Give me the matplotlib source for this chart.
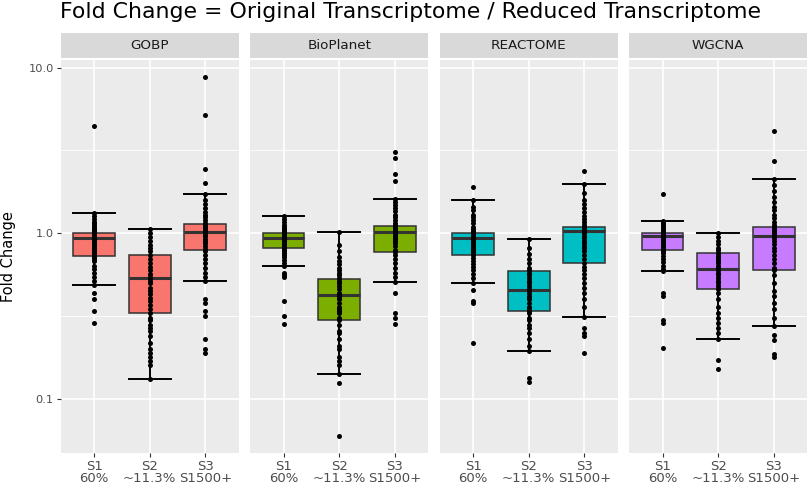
import matplotlib
matplotlib.use("Agg")
import matplotlib.pyplot as plt

plt.rcParams['font.family'] = ['DejaVu Sans']

panels = ["GOBP", "BioPlanet", "REACTOME", "WGCNA"]
colors = ["#F8766D", "#7CAE00", "#00BFC4", "#C77CFF"]
xlabels = ["S1\n60%", "S2\n~11.3%", "S3\nS1500+"]

# box statistics per panel: [S1, S2, S3]
q1 = {"GOBP": [0.73, 0.33, 0.80], "BioPlanet": [0.82, 0.30, 0.77],
      "REACTOME": [0.74, 0.34, 0.66], "WGCNA": [0.80, 0.465, 0.60]}
med = {"GOBP": [0.94, 0.54, 1.02], "BioPlanet": [0.94, 0.425, 1.02],
       "REACTOME": [0.94, 0.455, 1.04], "WGCNA": [0.96, 0.61, 0.96]}
q3 = {"GOBP": [1.00, 0.74, 1.14], "BioPlanet": [1.01, 0.53, 1.11],
      "REACTOME": [1.01, 0.59, 1.09], "WGCNA": [1.00, 0.76, 1.10]}
whislo = {"GOBP": [0.49, 0.132, 0.52], "BioPlanet": [0.64, 0.143, 0.51],
          "REACTOME": [0.50, 0.195, 0.315], "WGCNA": [0.59, 0.23, 0.277]}
whishi = {"GOBP": [1.33, 1.06, 1.74], "BioPlanet": [1.28, 1.02, 1.62],
          "REACTOME": [1.58, 0.92, 1.99], "WGCNA": [1.19, 1.01, 2.14]}

gobp_s1 = [4.43, 1.33, 1.28, 1.22, 1.18, 1.15, 1.12, 1.10, 1.07, 1.05, 1.03, 1.01, 1.0, 0.99,
           0.98, 0.97, 0.96, 0.95, 0.94, 0.93, 0.92, 0.91, 0.90, 0.88, 0.86, 0.84, 0.82, 0.80,
           0.78, 0.76, 0.74, 0.72, 0.70, 0.68, 0.635, 0.61, 0.58, 0.55, 0.52, 0.49, 0.44,
           0.40, 0.34, 0.29]
gobp_s2 = [1.06, 1.0, 0.95, 0.9, 0.85, 0.82, 0.78, 0.74, 0.70, 0.66, 0.63, 0.6, 0.57, 0.55,
           0.54, 0.52, 0.5, 0.47, 0.45, 0.43, 0.41, 0.39, 0.37, 0.35, 0.33, 0.31, 0.30, 0.28,
           0.27, 0.26, 0.24, 0.22, 0.20, 0.19, 0.18, 0.17, 0.16, 0.132]
gobp_s3 = [8.74, 5.16, 2.45, 2.02, 1.74, 1.6, 1.5, 1.42, 1.35, 1.3, 1.25, 1.2, 1.16, 1.13,
           1.1, 1.08, 1.05, 1.03, 1.02, 1.0, 0.98, 0.96, 0.93, 0.9, 0.87, 0.84, 0.81, 0.78,
           0.74, 0.7, 0.66, 0.62, 0.58, 0.55, 0.52, 0.40, 0.38, 0.34, 0.32, 0.232, 0.20, 0.19]
bio_s1 = [1.28, 1.22, 1.17, 1.13, 1.1, 1.07, 1.05, 1.03, 1.01, 1.0, 0.99, 0.98, 0.97, 0.96,
          0.95, 0.94, 0.93, 0.92, 0.91, 0.9, 0.88, 0.86, 0.84, 0.82, 0.8, 0.78, 0.76, 0.74,
          0.72, 0.69, 0.66, 0.64, 0.58, 0.56, 0.55, 0.39, 0.32, 0.286]
bio_s2 = [1.02, 0.85, 0.78, 0.72, 0.68, 0.65, 0.62, 0.6, 0.58, 0.56, 0.54, 0.52, 0.5, 0.48,
          0.46, 0.44, 0.43, 0.42, 0.41, 0.4, 0.38, 0.36, 0.35, 0.34, 0.33, 0.31, 0.3, 0.28,
          0.26, 0.25, 0.23, 0.21, 0.2, 0.18, 0.17, 0.16, 0.143, 0.125, 0.06]
bio_s3 = [3.1, 2.83, 2.27, 2.07, 1.62, 1.55, 1.48, 1.42, 1.36, 1.3, 1.25, 1.2, 1.16, 1.12,
          1.1, 1.08, 1.06, 1.04, 1.02, 1.0, 0.98, 0.96, 0.94, 0.92, 0.9, 0.87, 0.84, 0.8,
          0.77, 0.74, 0.7, 0.66, 0.62, 0.58, 0.55, 0.51, 0.44, 0.33, 0.31, 0.286]
rea_s1 = [1.9, 1.58, 1.45, 1.38, 1.3, 1.25, 1.2, 1.15, 1.1, 1.06, 1.03, 1.01, 1.0, 0.98, 0.97,
          0.96, 0.95, 0.94, 0.93, 0.92, 0.9, 0.88, 0.86, 0.84, 0.82, 0.8, 0.78, 0.76, 0.74,
          0.71, 0.68, 0.65, 0.63, 0.6, 0.57, 0.54, 0.5, 0.455, 0.39, 0.38, 0.22]
rea_s2 = [0.92, 0.82, 0.75, 0.7, 0.66, 0.62, 0.6, 0.58, 0.56, 0.54, 0.52, 0.5, 0.48, 0.46,
          0.455, 0.44, 0.42, 0.41, 0.4, 0.38, 0.36, 0.35, 0.34, 0.33, 0.31, 0.3, 0.28, 0.27,
          0.25, 0.23, 0.21, 0.195, 0.135, 0.127]
rea_s3 = [2.37, 1.99, 1.75, 1.6, 1.5, 1.42, 1.35, 1.28, 1.22, 1.17, 1.12, 1.09, 1.07, 1.05,
          1.04, 1.02, 1.0, 0.97, 0.94, 0.9, 0.87, 0.84, 0.82, 0.78, 0.74, 0.7, 0.66, 0.63, 0.6,
          0.57, 0.54, 0.5, 0.47, 0.44, 0.4, 0.36, 0.315, 0.27, 0.25, 0.24, 0.19]
wg_s1 = [1.72, 1.19, 1.15, 1.12, 1.09, 1.06, 1.04, 1.02, 1.0, 0.99, 0.98, 0.97, 0.96, 0.95,
         0.94, 0.93, 0.92, 0.91, 0.9, 0.88, 0.86, 0.84, 0.82, 0.8, 0.78, 0.76, 0.73, 0.7, 0.67,
         0.64, 0.61, 0.59, 0.44, 0.42, 0.30, 0.29, 0.205]
wg_s2 = [1.01, 0.95, 0.9, 0.86, 0.82, 0.79, 0.76, 0.74, 0.72, 0.7, 0.68, 0.66, 0.64, 0.62,
         0.61, 0.6, 0.58, 0.56, 0.54, 0.52, 0.5, 0.48, 0.465, 0.44, 0.4, 0.36, 0.33, 0.31,
         0.29, 0.27, 0.25, 0.23, 0.173, 0.152]
wg_s3 = [4.17, 2.73, 2.14, 1.95, 1.8, 1.65, 1.55, 1.45, 1.38, 1.3, 1.24, 1.18, 1.13, 1.1,
         1.07, 1.04, 1.0, 0.98, 0.96, 0.94, 0.9, 0.86, 0.82, 0.78, 0.74, 0.7, 0.66, 0.62, 0.6,
         0.56, 0.5, 0.45, 0.42, 0.38, 0.35, 0.31, 0.277, 0.244, 0.227, 0.187, 0.18]

points = {"GOBP": [gobp_s1, gobp_s2, gobp_s3],
          "BioPlanet": [bio_s1, bio_s2, bio_s3],
          "REACTOME": [rea_s1, rea_s2, rea_s3],
          "WGCNA": [wg_s1, wg_s2, wg_s3]}

yticks = [0.1, 1.0, 10.0]
yticklabels = ["0.1", "1.0", "10.0"]

W, H = 809, 491
fig = plt.figure(figsize=(W / 100, H / 100), dpi=100)

left0, pw, gap = 60.7, 178.0, 11.5
ptop, pbot = 60.0, 453.0
strip_top, strip_bot = 32.5, 58.3

for i, name in enumerate(panels):
    lx = left0 + i * (pw + gap)
    ax = fig.add_axes([lx / W, 1 - pbot / H, pw / W, (pbot - ptop) / H])
    ax.set_facecolor("#EBEBEB")
    ax.set_yscale("log")
    ax.set_ylim(0.0475, 11.1)
    ax.set_xlim(0.4, 3.6)
    for s in ax.spines.values():
        s.set_visible(False)
    # grid
    for yv in [10 ** -0.5, 10 ** 0.5]:
        ax.axhline(yv, color="white", lw=0.6, zorder=0)
    for yv in yticks:
        ax.axhline(yv, color="white", lw=1.2, zorder=0)
    for xv in [1, 2, 3]:
        ax.axvline(xv, color="white", lw=1.2, zorder=0)

    pos = [1, 2, 3]
    stats = []
    for k in range(3):
        stats.append({"med": med[name][k], "q1": q1[name][k], "q3": q3[name][k],
                      "whislo": whislo[name][k], "whishi": whishi[name][k], "fliers": []})
    # errorbar-style whiskers (drawn beneath the boxes)
    ax.bxp(stats, positions=pos, widths=0.75, showcaps=True, showbox=False,
           showfliers=False, capwidths=0.75,
           whiskerprops=dict(color="black", lw=1.4),
           capprops=dict(color="black", lw=1.4),
           medianprops=dict(visible=False), zorder=2)
    ax.bxp(stats, positions=pos, widths=0.75, patch_artist=True, showcaps=False,
           showfliers=False,
           boxprops=dict(facecolor=colors[i], edgecolor="#333333", lw=1.1),
           whiskerprops=dict(visible=False),
           medianprops=dict(color="#333333", lw=2.2), zorder=3)
    for k in range(3):
        vals = points[name][k]
        ax.scatter([pos[k]] * len(vals), vals, s=13, color="black", zorder=4, linewidths=0)

    ax.set_xticks(pos)
    ax.set_xticklabels(xlabels, fontsize=9.5, color="#4D4D4D", linespacing=0.95)
    ax.tick_params(axis="x", length=3, color="#333333", pad=2, width=0.8)
    ax.minorticks_off()
    ax.set_yticks(yticks)
    if i == 0:
        ax.set_yticklabels(yticklabels, fontsize=8.2, color="#4D4D4D")
        ax.tick_params(axis="y", length=3, color="#333333", pad=2, width=0.8)
    else:
        ax.set_yticklabels([])
        ax.tick_params(axis="y", length=0)

    # facet strip
    sax = fig.add_axes([lx / W, 1 - strip_bot / H, pw / W, (strip_bot - strip_top) / H])
    sax.set_facecolor("#D9D9D9")
    sax.set_xticks([])
    sax.set_yticks([])
    for s in sax.spines.values():
        s.set_visible(False)
    sax.text(0.5, 0.5, name, ha="center", va="center", fontsize=9.7, color="#1A1A1A",
             transform=sax.transAxes)

fig.text(60 / W, 1 - 18 / H, "Fold Change = Original Transcriptome / Reduced Transcriptome",
         fontsize=15.8, color="black", ha="left", va="baseline")
fig.text(9 / W, 1 - 256.5 / H, "Fold Change", rotation=90, fontsize=10.5, color="black",
         ha="center", va="center")

fig.savefig("out.png", dpi=100)
